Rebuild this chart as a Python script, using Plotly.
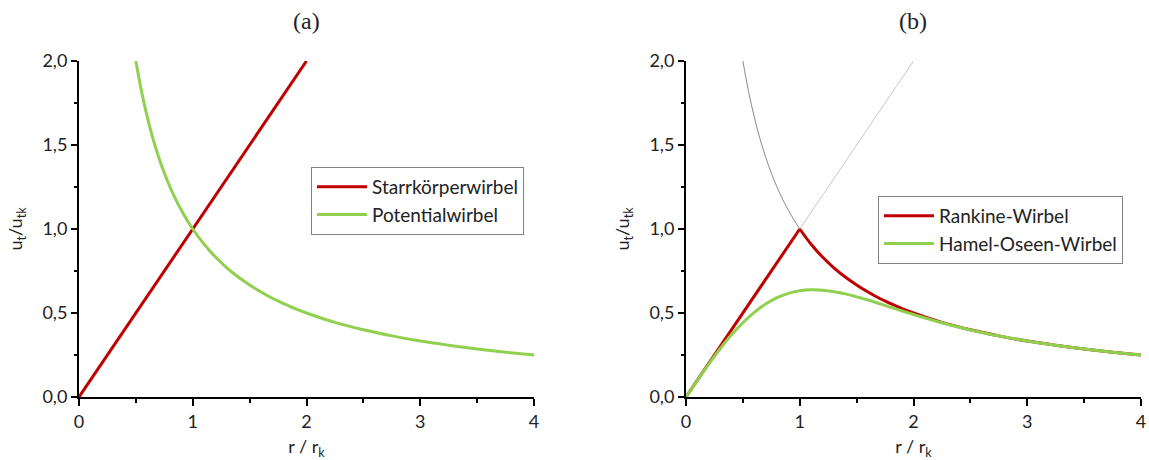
import plotly.graph_objects as go

# ---- data ----
starr_r = [0.0, 2.0]
starr_u = [0.0, 2.0]

pot_r = [0.5, 0.55, 0.6, 0.65, 0.7, 0.75, 0.8, 0.85, 0.9, 0.95, 1.0, 1.1, 1.2, 1.3, 1.4,
         1.5, 1.6, 1.7, 1.8, 1.9, 2.0, 2.25, 2.5, 2.75, 3.0, 3.25, 3.5, 3.75, 4.0]
pot_u = [2.0, 1.818, 1.667, 1.538, 1.429, 1.333, 1.25, 1.176, 1.111, 1.053, 1.0, 0.909, 0.833,
         0.769, 0.714, 0.667, 0.625, 0.588, 0.556, 0.526, 0.5, 0.444, 0.4, 0.364, 0.333, 0.308,
         0.286, 0.267, 0.25]

ref_pot_r = [0.5, 0.55, 0.6, 0.65, 0.7, 0.75, 0.8, 0.85, 0.9, 0.95, 1.0]
ref_pot_u = [2.0, 1.818, 1.667, 1.538, 1.429, 1.333, 1.25, 1.176, 1.111, 1.053, 1.0]
ref_starr_r = [1.0, 2.0]
ref_starr_u = [1.0, 2.0]

rankine_core_r = [0.0, 1.0]
rankine_core_u = [0.0, 1.0]
rankine_outer_r = [1.0, 1.1, 1.2, 1.3, 1.4, 1.5, 1.6, 1.7, 1.8, 1.9, 2.0, 2.25, 2.5, 2.75,
                   3.0, 3.25, 3.5, 3.75, 4.0]
rankine_outer_u = [1.0, 0.909, 0.833, 0.769, 0.714, 0.667, 0.625, 0.588, 0.556, 0.526, 0.5,
                   0.444, 0.4, 0.364, 0.333, 0.308, 0.286, 0.267, 0.25]

hamel_r = [0.0, 0.1, 0.2, 0.3, 0.4, 0.5, 0.6, 0.7, 0.8, 0.9, 1.0, 1.1, 1.2, 1.3, 1.4, 1.5,
           1.6, 1.7, 1.8, 1.9, 2.0, 2.2, 2.4, 2.6, 2.8, 3.0, 3.25, 3.5, 3.75, 4.0]
hamel_u = [0.0, 0.0995, 0.196, 0.287, 0.370, 0.442, 0.504, 0.553, 0.591, 0.617, 0.632, 0.638,
           0.636, 0.627, 0.614, 0.596, 0.577, 0.556, 0.534, 0.512, 0.491, 0.451, 0.415, 0.384,
           0.357, 0.333, 0.308, 0.286, 0.267, 0.25]

panel_titles = ["(a)", "(b)"]
x_ticks = [0, 1, 2, 3, 4]
y_ticks = [0.0, 0.5, 1.0, 1.5, 2.0]

RED = "#c00000"
GREEN = "#8fd14f"
SANS = "Lato, 'Open Sans', sans-serif"
SERIF = "'Liberation Serif', 'DejaVu Serif', serif"

fig = go.Figure()

# left panel
fig.add_trace(go.Scatter(x=starr_r, y=starr_u, mode="lines", name="Starrkörperwirbel",
                         line=dict(color=RED, width=3), xaxis="x", yaxis="y", legend="legend"))
fig.add_trace(go.Scatter(x=pot_r, y=pot_u, mode="lines", name="Potentialwirbel",
                         line=dict(color=GREEN, width=3, shape="spline", smoothing=1.0),
                         xaxis="x", yaxis="y", legend="legend"))

# right panel
fig.add_trace(go.Scatter(x=ref_pot_r, y=ref_pot_u, mode="lines", showlegend=False,
                         line=dict(color="#8a8a8a", width=1, shape="spline"), xaxis="x2", yaxis="y2"))
fig.add_trace(go.Scatter(x=ref_starr_r, y=ref_starr_u, mode="lines", showlegend=False,
                         line=dict(color="#c8c8c8", width=1), xaxis="x2", yaxis="y2"))
fig.add_trace(go.Scatter(x=rankine_core_r, y=rankine_core_u, mode="lines", name="Rankine-Wirbel",
                         legendgroup="rk", line=dict(color=RED, width=3),
                         xaxis="x2", yaxis="y2", legend="legend2"))
fig.add_trace(go.Scatter(x=rankine_outer_r, y=rankine_outer_u, mode="lines", showlegend=False,
                         legendgroup="rk", line=dict(color=RED, width=3, shape="spline", smoothing=1.0),
                         xaxis="x2", yaxis="y2"))
fig.add_trace(go.Scatter(x=hamel_r, y=hamel_u, mode="lines", name="Hamel-Oseen-Wirbel",
                         line=dict(color=GREEN, width=3, shape="spline", smoothing=1.0),
                         xaxis="x2", yaxis="y2", legend="legend2"))

W, H = 1149, 460
ml, mt = 79, 61
mr = W - 1141
mb = H - 397
pw = W - ml - mr
ph = H - mt - mb
left_end = 455 / pw
right_start = 607 / pw


def px_x(p):  # pixel -> paper x
    return (p - ml) / pw


def px_y(p):  # pixel -> paper y
    return (H - mb - p) / ph


xaxis_common = dict(
    range=[0, 4], tickvals=x_ticks, ticks="outside", ticklen=7, tickwidth=2, tickcolor="black",
    showline=True, linecolor="black", linewidth=2, showgrid=False, zeroline=False,
    automargin=False, ticklabeloverflow="allow",
    tickfont=dict(family=SANS, size=18, color="#222"),
    minor=dict(dtick=0.5, ticks="outside", ticklen=4, tickwidth=2, tickcolor="black"),
    title=dict(text="r / r<sub>k</sub>", font=dict(family=SANS, size=18, color="#222")),
)
yaxis_common = dict(
    range=[0, 2], tickvals=y_ticks, tickformat=".1f", ticks="outside", ticklen=6, tickwidth=2,
    tickcolor="black", showline=True, linecolor="black", linewidth=2, showgrid=False,
    zeroline=False, automargin=False, tickfont=dict(family=SANS, size=18, color="#222"),
    minor=dict(dtick=0.25, ticks="outside", ticklen=3, tickwidth=2, tickcolor="black"),
    title=dict(text="u<sub>t</sub>/u<sub>tk</sub>", font=dict(family=SANS, size=18, color="#222")),
)

legend_common = dict(
    bgcolor="white", bordercolor="#808080", borderwidth=1,
    font=dict(family=SANS, size=19, color="#222"),
    xanchor="left", yanchor="top", tracegroupgap=0, itemwidth=50,
)

fig.update_layout(
    width=W, height=H,
    margin=dict(l=ml, r=mr, t=mt, b=mb),
    plot_bgcolor="white", paper_bgcolor="white",
    separators=",.",
    hovermode=False,
    xaxis=dict(domain=[0, left_end], anchor="y", **xaxis_common),
    yaxis=dict(domain=[0, 1], anchor="x", **yaxis_common),
    xaxis2=dict(domain=[right_start, 1], anchor="y2", **xaxis_common),
    yaxis2=dict(domain=[0, 1], anchor="x2", **yaxis_common),
    legend=dict(x=px_x(311), y=px_y(167), **legend_common),
    legend2=dict(x=px_x(878), y=px_y(196), **legend_common),
    annotations=[
        dict(text=panel_titles[0], x=left_end / 2, xref="paper", y=px_y(21), yref="paper",
             showarrow=False, font=dict(family=SERIF, size=24, color="#222"),
             xanchor="center", yanchor="middle"),
        dict(text=panel_titles[1], x=(right_start + 1) / 2, xref="paper", y=px_y(21), yref="paper",
             showarrow=False, font=dict(family=SERIF, size=24, color="#222"),
             xanchor="center", yanchor="middle"),
    ],
)

# remove the default 8px page margin so the figure fills the window exactly
fig.write_html("out.html", config={"displayModeBar": False},
               post_script="document.body.style.margin='0px';")
